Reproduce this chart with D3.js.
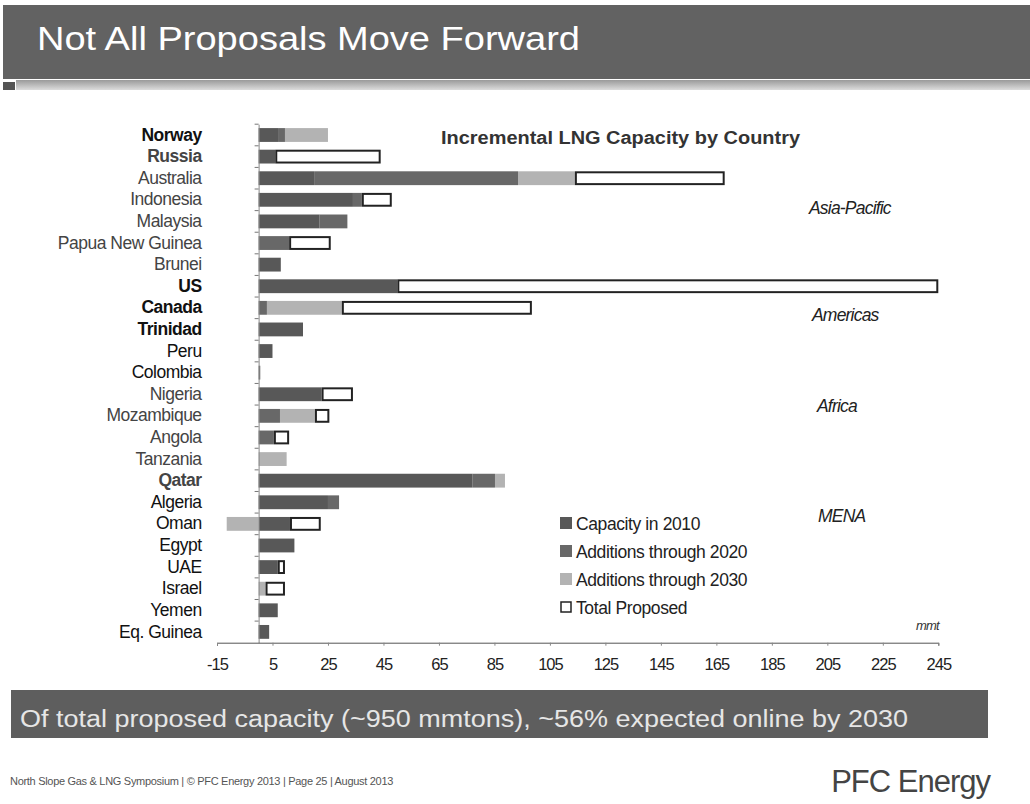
<!DOCTYPE html>
<html>
<head>
<meta charset="utf-8">
<script src="https://cdn.jsdelivr.net/npm/d3@7"></script>
<style>
  html, body { margin: 0; padding: 0; background: #fff; }
  svg { display: block; font-family: "Liberation Sans", Arial, Helvetica, sans-serif; }
</style>
</head>
<body>
<svg id="chart" width="1030" height="804"></svg>
<script>
// Incremental LNG capacity by country (mmt)
const countries = ["Norway", "Russia", "Australia", "Indonesia", "Malaysia", "Papua New Guinea", "Brunei",
  "US", "Canada", "Trinidad", "Peru", "Colombia",
  "Nigeria", "Mozambique", "Angola", "Tanzania",
  "Qatar", "Algeria", "Oman", "Egypt", "UAE", "Israel", "Yemen", "Eq. Guinea"];
const capacity2010  = [7, 6, 20, 34, 22, 0, 8, 50, 0, 16, 5, 0, 22.7, 0, 0, 0, 77, 25, 11.3, 12.9, 6.9, 0, 6.9, 3.8];
const additions2020 = [2.5, 0, 73.5, 3.2, 10, 11, 0, 0, 3, 0, 0, 0.6, 0, 7.7, 5.5, 0, 8.2, 4, 0, 0, 0, 0, 0, 0];
const additions2030 = [15.5, 0, 20.5, 0, 0, 0, 0, 0, 27, 0, 0, 0, 0, 12.6, 0, 10.1, 3.6, 0, -11.5, 0, 0, 2.5, 0, 0];
const totalProposed = [null, 44, 168, 48, null, 26, null, 245, 98.5, null, null, null, 34, 25.5, 11, null, null, null, 22.4, null, 9.5, 9.5, null, null];
const tickValues = [-15, 5, 25, 45, 65, 85, 105, 125, 145, 165, 185, 205, 225, 245];
const seriesNames = ["Capacity in 2010", "Additions through 2020", "Additions through 2030", "Total Proposed"];
const regionNames = ["Asia-Pacific", "Americas", "Africa", "MENA"];

// styling
const seriesColors = ["#585858", "#686868", "#b3b3b3", "#ffffff"];
const boldLabels = new Set(["Norway", "Russia", "US", "Canada", "Trinidad", "Qatar"]);
const softLabels = new Set(["Russia", "Australia", "Indonesia", "Malaysia", "Papua New Guinea", "Brunei",
  "Nigeria", "Mozambique", "Angola", "Tanzania", "Qatar"]);

const svg = d3.select("#chart");

// ---- slide header ----
svg.append("rect").attr("x", 3).attr("y", 5).attr("width", 1027).attr("height", 74).attr("fill", "#626262");
const stripGrad = svg.append("defs").append("linearGradient")
  .attr("id", "strip").attr("x1", 0).attr("y1", 0).attr("x2", 0).attr("y2", 1);
stripGrad.append("stop").attr("offset", "0%").attr("stop-color", "#9a9a9a");
stripGrad.append("stop").attr("offset", "100%").attr("stop-color", "#dcdcdc");
svg.append("rect").attr("x", 16).attr("y", 80).attr("width", 1014).attr("height", 10).attr("fill", "url(#strip)");
svg.append("rect").attr("x", 3).attr("y", 82).attr("width", 12).attr("height", 8).attr("fill", "#555");
svg.append("text")
  .attr("x", 37).attr("y", 50)
  .attr("fill", "#ffffff")
  .attr("font-size", 33)
  .attr("textLength", 543).attr("lengthAdjust", "spacingAndGlyphs")
  .text("Not All Proposals Move Forward");

// ---- chart ----
const x = d3.scaleLinear().domain([-15, 245]).range([217, 938.3]);
const y = d3.scaleBand().domain(countries).range([124.2, 642.7]).paddingInner(0.36).paddingOuter(0.18);

svg.append("text")
  .attr("x", 441).attr("y", 144)
  .attr("fill", "#333").attr("font-size", 18).attr("font-weight", "bold")
  .attr("textLength", 359).attr("lengthAdjust", "spacingAndGlyphs")
  .text("Incremental LNG Capacity by Country");

// stacked segments per country; negative additions extend left of zero
const segments = [];
countries.forEach((c, i) => {
  let pos = 0;
  const parts = [capacity2010[i], additions2020[i], additions2030[i]];
  parts.forEach((v, k) => {
    if (!v) return;
    if (v > 0) {
      segments.push({ country: c, k, x0: pos, x1: pos + v });
      pos += v;
    } else {
      segments.push({ country: c, k, x0: v, x1: 0 });
    }
  });
  const t = totalProposed[i];
  if (t != null && t > pos) segments.push({ country: c, k: 3, x0: pos, x1: t });
});

svg.append("g").selectAll("rect")
  .data(segments)
  .join("rect")
  .attr("x", d => x(d.x0) + (d.k === 3 ? 1 : 0))
  .attr("y", d => y(d.country) + (d.k === 3 ? 1 : 0))
  .attr("width", d => Math.max(0.8, x(d.x1) - x(d.x0) - (d.k === 3 ? 2 : 0)))
  .attr("height", d => y.bandwidth() - (d.k === 3 ? 2 : 0))
  .attr("fill", d => seriesColors[d.k])
  .attr("stroke", d => d.k === 3 ? "#222" : "none")
  .attr("stroke-width", 2);

// vertical category axis with ticks between categories
const yAxis = svg.append("g")
  .attr("transform", `translate(${x(0)},0)`)
  .call(d3.axisLeft(y).tickSize(0).tickPadding(57));
yAxis.select(".domain").attr("stroke", "#8a8a8a");
yAxis.selectAll("text")
  .attr("font-size", 17.5)
  .attr("letter-spacing", "-0.5px")
  .attr("font-family", "'Liberation Sans', Arial, sans-serif")
  .attr("font-weight", d => boldLabels.has(d) ? "bold" : "normal")
  .attr("fill", d => softLabels.has(d) ? "#444" : "#111");
const bounds = countries.map(c => y(c) - y.step() * y.paddingInner() / 2);
svg.append("g").selectAll("line")
  .data(bounds)
  .join("line")
  .attr("x1", x(0) - 4).attr("x2", x(0))
  .attr("y1", d => d).attr("y2", d => d)
  .attr("stroke", "#777");

// value axis
const xAxis = svg.append("g")
  .attr("transform", `translate(0,${y.range()[1]})`)
  .call(d3.axisBottom(x).tickValues(tickValues).tickSize(3).tickPadding(13).tickFormat(d => String(d)));
xAxis.select(".domain").attr("stroke", "#555");
xAxis.selectAll(".tick line").attr("stroke", "#888");
xAxis.selectAll("text")
  .attr("font-size", 16.5)
  .attr("letter-spacing", "-1px")
  .attr("font-family", "'Liberation Sans', Arial, sans-serif")
  .attr("fill", "#222");

// region annotations
const regionPos = [[809, 214], [812, 321], [817, 412], [818, 522]];
svg.append("g").selectAll("text")
  .data(regionNames)
  .join("text")
  .attr("x", (d, i) => regionPos[i][0]).attr("y", (d, i) => regionPos[i][1])
  .attr("font-size", 17.5).attr("font-style", "italic").attr("letter-spacing", "-0.8px")
  .attr("fill", "#222")
  .text(d => d);
svg.append("text")
  .attr("x", 916).attr("y", 630)
  .attr("font-size", 13).attr("font-style", "italic").attr("letter-spacing", "-0.8px")
  .attr("fill", "#333").text("mmt");

// legend
const legend = svg.append("g").selectAll("g")
  .data(seriesNames)
  .join("g")
  .attr("transform", (d, i) => `translate(560,${523 + i * 28})`);
legend.append("rect")
  .attr("x", (d, i) => i === 3 ? 1 : 0).attr("y", (d, i) => i === 3 ? -5 : -6)
  .attr("width", (d, i) => i === 3 ? 10 : 12).attr("height", (d, i) => i === 3 ? 10 : 12)
  .attr("fill", (d, i) => seriesColors[i])
  .attr("stroke", (d, i) => i === 3 ? "#222" : "none")
  .attr("stroke-width", 1.5);
legend.append("text")
  .attr("x", 16).attr("y", 6.5)
  .attr("font-size", 17.5).attr("letter-spacing", "-0.4px")
  .attr("fill", "#222")
  .text(d => d);

// ---- footer banner ----
svg.append("rect").attr("x", 11).attr("y", 690).attr("width", 977).attr("height", 48).attr("fill", "#5e5e5e");
svg.append("text")
  .attr("x", 20).attr("y", 727)
  .attr("fill", "#e6e6e6").attr("font-size", 23)
  .attr("textLength", 888).attr("lengthAdjust", "spacingAndGlyphs")
  .text("Of total proposed capacity (~950 mmtons), ~56% expected online by 2030");

svg.append("text")
  .attr("x", 10).attr("y", 785)
  .attr("fill", "#555").attr("font-size", 11).attr("letter-spacing", "-0.3px")
  .text("North Slope Gas & LNG Symposium  |  \u00A9 PFC Energy 2013  |  Page 25 |  August 2013");
svg.append("text")
  .attr("x", 990).attr("y", 792)
  .attr("text-anchor", "end")
  .attr("fill", "#444").attr("font-size", 31).attr("letter-spacing", "-1px")
  .text("PFC Energy");
</script>
</body>
</html>
